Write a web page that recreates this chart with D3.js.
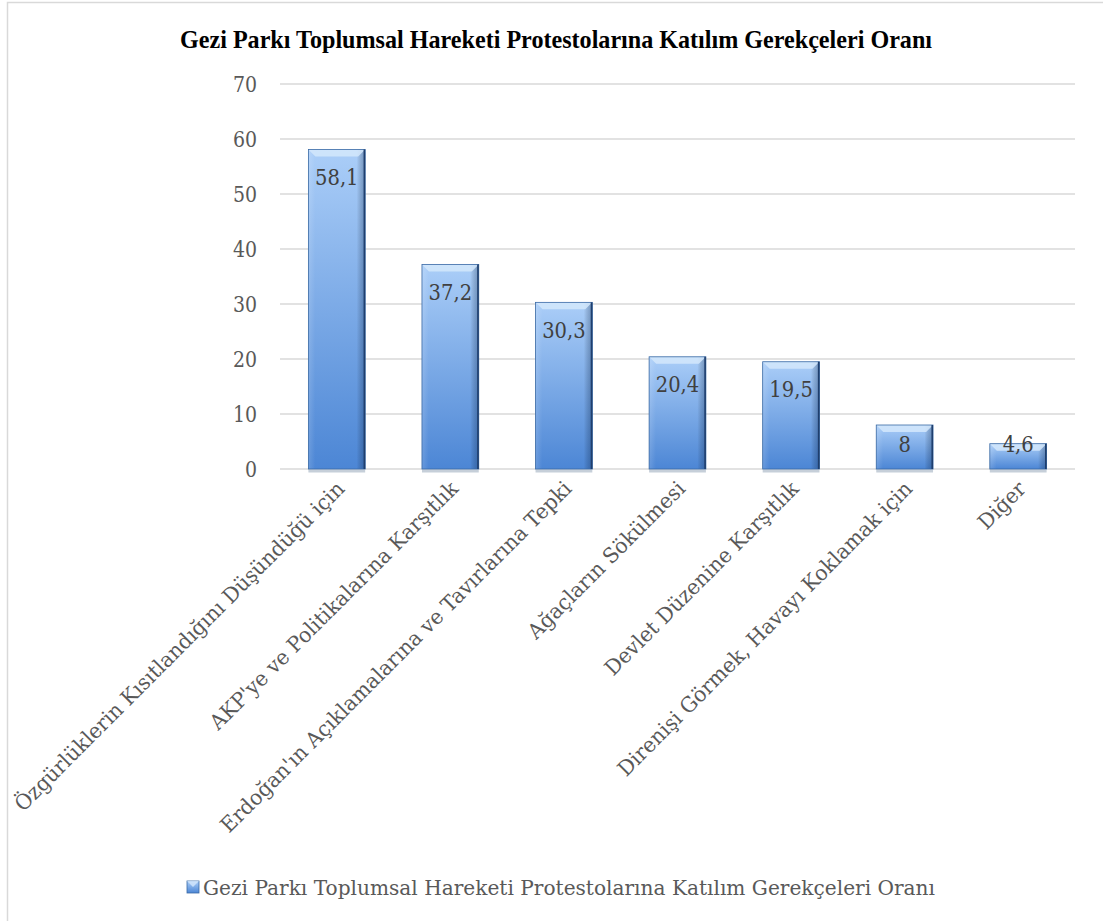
<!DOCTYPE html>
<html><head><meta charset="utf-8">
<script src="https://cdn.jsdelivr.net/npm/d3@7"></script>
<style>body{margin:0;background:#fff}svg{display:block}</style>
</head><body>
<svg id="c" width="1103" height="921"></svg>
<script>
const categories = [
  "Özgürlüklerin Kısıtlandığını Düşündüğü için",
  "AKP'ye ve Politikalarına Karşıtlık",
  "Erdoğan'ın Açıklamalarına ve Tavırlarına Tepki",
  "Ağaçların Sökülmesi",
  "Devlet Düzenine Karşıtlık",
  "Direnişi Görmek, Havayı Koklamak için",
  "Diğer"
];
const values = [58.1, 37.2, 30.3, 20.4, 19.5, 8, 4.6];
const valueLabels = ["58,1", "37,2", "30,3", "20,4", "19,5", "8", "4,6"];
const yTicks = [0, 10, 20, 30, 40, 50, 60, 70];
const title = "Gezi Parkı Toplumsal Hareketi Protestolarına Katılım Gerekçeleri Oranı";
const seriesName = "Gezi Parkı Toplumsal Hareketi Protestolarına Katılım Gerekçeleri Oranı";

const svg = d3.select("#c");
const serif = "'DejaVu Serif', serif";

// horizontally condense text to mimic a narrower face
function squeeze(sel, f) {
  sel.each(function() {
    const w = this.getComputedTextLength();
    d3.select(this).attr("textLength", w * f).attr("lengthAdjust", "spacingAndGlyphs");
  });
}

// frame
svg.append("path").attr("d", "M7.5,921 V2.5 H1103").attr("fill","none").attr("stroke","#d9d9d9").attr("stroke-width",1.5);

const x = d3.scaleBand().domain(categories).range([280, 1075]).paddingInner(0.5).paddingOuter(0.25);
const y = d3.scaleLinear().domain([0, 70]).range([469, 84]);

const defs = svg.append("defs");
const g1 = defs.append("linearGradient").attr("id","barV").attr("x1",0).attr("y1",0).attr("x2",0).attr("y2",1);
g1.append("stop").attr("offset","0%").attr("stop-color","#abcef8");
g1.append("stop").attr("offset","100%").attr("stop-color","#4c86d5");
const g2 = defs.append("linearGradient").attr("id","barH").attr("x1",0).attr("y1",0).attr("x2",1).attr("y2",0);
g2.append("stop").attr("offset","0%").attr("stop-color","#ffffff").attr("stop-opacity",0.15);
g2.append("stop").attr("offset","12%").attr("stop-color","#ffffff").attr("stop-opacity",0);
g2.append("stop").attr("offset","85%").attr("stop-color","#000000").attr("stop-opacity",0);
g2.append("stop").attr("offset","100%").attr("stop-color","#0b2a55").attr("stop-opacity",0.35);

// grid
svg.append("g").selectAll("line").data(yTicks).join("line")
  .attr("x1", 280).attr("x2", 1075)
  .attr("y1", d => y(d)).attr("y2", d => y(d))
  .attr("stroke", "#d9d9d9").attr("stroke-width", 1.5);

// y axis labels
const yAxis = d3.axisLeft(y).tickValues(yTicks).tickSize(0).tickPadding(0).tickFormat(d3.format("d"));
const ya = svg.append("g").attr("transform","translate(257,0)").call(yAxis);
ya.select(".domain").remove();
ya.selectAll("text").attr("font-family", serif).attr("font-size", 22).attr("fill","#595959").attr("dy","0.36em");
squeeze(ya.selectAll("text"), 0.86);

// bars
const bars = svg.append("g").selectAll("g").data(values).join("g");
bars.append("rect").attr("x",(d,i)=>x(categories[i])).attr("y",d=>y(d)+1)
  .attr("width",x.bandwidth()).attr("height",d=>y(0)-y(d)+1).attr("fill","#c6cfd9").attr("transform","translate(0,1.5)");
bars.append("rect").attr("x",(d,i)=>x(categories[i])).attr("y",d=>y(d))
  .attr("width",x.bandwidth()).attr("height",d=>y(0)-y(d)).attr("fill","url(#barV)");
bars.append("rect").attr("x",(d,i)=>x(categories[i])).attr("y",d=>y(d))
  .attr("width",x.bandwidth()).attr("height",d=>y(0)-y(d)).attr("fill","url(#barH)");
// top bevel
const bv = 7;
bars.append("path").attr("d",(d,i)=>{
  const x0 = x(categories[i]), x1 = x0 + x.bandwidth(), t = y(d);
  return `M${x0},${t} H${x1} L${x1-bv},${t+bv} H${x0+bv} Z`;
}).attr("fill","#d4e7fc").attr("opacity",0.85);
bars.append("rect").attr("x",(d,i)=>x(categories[i])).attr("y",d=>y(d))
  .attr("width",x.bandwidth()).attr("height",d=>y(0)-y(d))
  .attr("fill","none").attr("stroke","#3b6aa5").attr("stroke-width",0.8);
bars.append("line").attr("x1",(d,i)=>x(categories[i])+x.bandwidth()-0.8).attr("x2",(d,i)=>x(categories[i])+x.bandwidth()-0.8)
  .attr("y1",d=>y(d)).attr("y2",y(0)).attr("stroke","#1f3f6e").attr("stroke-width",1.6);

// value labels
const vl = bars.append("text")
  .attr("x",(d,i)=>x(categories[i])+x.bandwidth()/2)
  .attr("y",d=>Math.min(y(d)+27, y(0)-25))
  .attr("dy","0.36em").attr("text-anchor","middle")
  .attr("font-family",serif).attr("font-size",23).attr("fill","#404040")
  .text((d,i)=>valueLabels[i]);
squeeze(vl, 0.85);

// x labels
const xl = svg.append("g").selectAll("text").data(categories).join("text")
  .attr("transform", d => `translate(${x(d)+x.bandwidth()/2+9},${490}) rotate(-45)`)
  .attr("text-anchor","end")
  .attr("font-family",serif).attr("font-size",21).attr("fill","#595959")
  .text(d=>d);
squeeze(xl, 0.97);

// title
svg.append("text").attr("x",556).attr("y",48).attr("text-anchor","middle")
  .attr("font-family","'Liberation Serif', serif").attr("font-weight","bold").attr("font-size",25).attr("fill","#000")
  .attr("textLength",752).attr("lengthAdjust","spacingAndGlyphs")
  .text(title);

// legend
const lg = svg.append("g");
lg.append("rect").attr("x",187).attr("y",881).attr("width",12).attr("height",12).attr("fill","url(#barV)").attr("stroke","#3b6aa5").attr("stroke-width",0.8);
lg.append("path").attr("d","M187,881 H199 L193,887 Z").attr("fill","#d4e7fc").attr("opacity",0.8);
lg.append("text").attr("x",203).attr("y",895)
  .attr("font-family",serif).attr("font-size",21).attr("fill","#595959")
  .attr("textLength",732).attr("lengthAdjust","spacingAndGlyphs")
  .text(seriesName);
</script>
</body></html>
